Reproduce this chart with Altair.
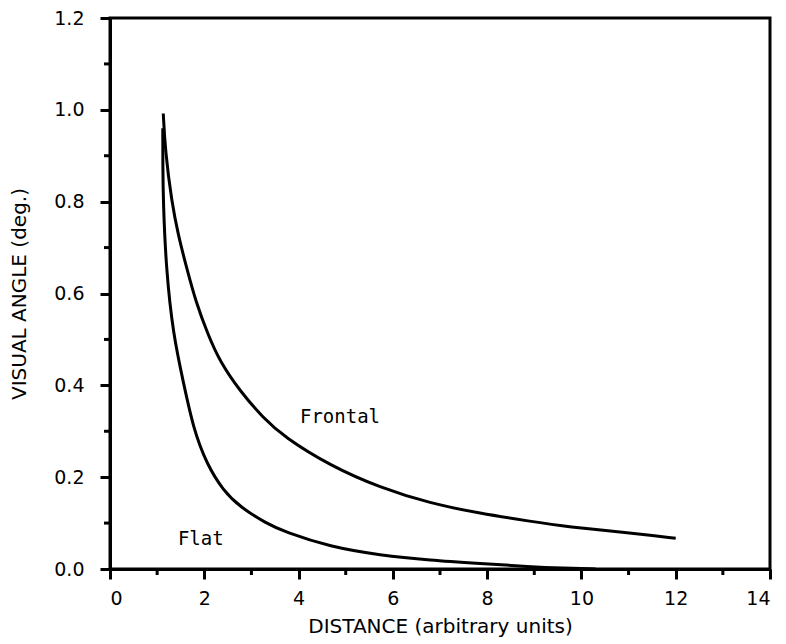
import altair as alt
import pandas as pd

frontal_x = [1.13, 1.17, 1.31, 1.45, 1.63, 1.82, 2.08, 2.33, 2.76, 3.25, 3.7, 4.67, 5.73, 6.79, 7.85, 8.91, 9.69, 11.1, 12.0]
frontal_y = [0.992, 0.913, 0.798, 0.726, 0.654, 0.582, 0.510, 0.452, 0.387, 0.329, 0.287, 0.225, 0.177, 0.143, 0.121, 0.104, 0.092, 0.078, 0.067]

flat_x = [1.12, 1.12, 1.13, 1.19, 1.34, 1.56, 1.77, 2.05, 2.40, 2.76, 3.32, 3.7, 4.67, 5.73, 6.79, 7.85, 8.91, 9.6, 10.3]
flat_y = [0.96, 0.88, 0.798, 0.654, 0.510, 0.405, 0.305, 0.229, 0.171, 0.135, 0.099, 0.081, 0.048, 0.030, 0.019, 0.012, 0.005, 0.002, 0.0]

labels = ["Frontal", "Flat"]
label_x = [4.03, 1.44]
label_y = [0.318, 0.052]

x_major = [0, 2, 4, 6, 8, 10, 12, 14]
x_minor = [1, 3, 5, 7, 9, 11, 13]
y_major = [0.0, 0.2, 0.4, 0.6, 0.8, 1.0, 1.2]
y_minor = [0.1, 0.3, 0.5, 0.7, 0.9, 1.1]

rows = []
for i, (x, y) in enumerate(zip(frontal_x, frontal_y)):
    rows.append({"series": "Frontal", "d": x, "v": y, "o": i})
for i, (x, y) in enumerate(zip(flat_x, flat_y)):
    rows.append({"series": "Flat", "d": x, "v": y, "o": i})
df = pd.DataFrame(rows)
lab = pd.DataFrame({"t": labels, "d": label_x, "v": label_y})
xm = pd.DataFrame({"d": x_minor})
ym = pd.DataFrame({"v": y_minor})

W, H = 660, 551
xs = alt.Scale(domain=[0, 14], nice=False, zero=False)
ys = alt.Scale(domain=[0, 1.2], nice=False, zero=False)

LABEL_FONT = "DejaVu Sans"

x_axis_major = alt.Axis(values=x_major, format="d", orient="bottom", title="DISTANCE (arbitrary units)",
                        tickSize=10, tickWidth=3, domainWidth=3, domainColor="black", tickColor="black",
                        labelFont=LABEL_FONT, labelFontSize=19, labelColor="black", labelPadding=10,
                        titleFont=LABEL_FONT, titleFontSize=20, titleFontWeight="normal", titleColor="black",
                        titlePadding=8, grid=False)
y_axis_major = alt.Axis(values=y_major, format=".1f", orient="left", title="VISUAL ANGLE (deg.)",
                        tickSize=10, tickWidth=3, domainWidth=3, domainColor="black", tickColor="black",
                        labelFont=LABEL_FONT, labelFontSize=19, labelColor="black", labelPadding=16,
                        titleFont=LABEL_FONT, titleFontSize=20, titleFontWeight="normal", titleColor="black",
                        titlePadding=24, grid=False)

lines = alt.Chart(df).mark_line(color="black", strokeWidth=3, interpolate="basis").encode(
    x=alt.X("d:Q", scale=xs, axis=x_axis_major),
    y=alt.Y("v:Q", scale=ys, axis=y_axis_major),
    detail="series:N",
    order="o:Q",
)

x_minor_ticks = alt.Chart(xm).mark_rule(color="black", strokeWidth=3).encode(
    x=alt.X("d:Q", scale=xs),
    y=alt.value(H),
    y2=alt.value(H + 6),
)

y_minor_ticks = alt.Chart(ym).mark_rule(color="black", strokeWidth=3).encode(
    y=alt.Y("v:Q", scale=ys),
    x=alt.value(0),
    x2=alt.value(-6),
)

text = alt.Chart(lab).mark_text(font="DejaVu Sans Mono", fontSize=19, align="left", baseline="alphabetic",
                                color="black").encode(
    x=alt.X("d:Q", scale=xs),
    y=alt.Y("v:Q", scale=ys),
    text="t:N",
)

chart = alt.layer(lines, x_minor_ticks, y_minor_ticks, text).properties(
    width=W, height=H,
    autosize=alt.AutoSizeParams(type="none"),
    padding={"left": 102, "top": 10, "right": 8, "bottom": 74},
).configure(background="white").configure_view(stroke="black", strokeWidth=3)

chart.save("out.html", embed_options={"renderer": "svg", "actions": False})
